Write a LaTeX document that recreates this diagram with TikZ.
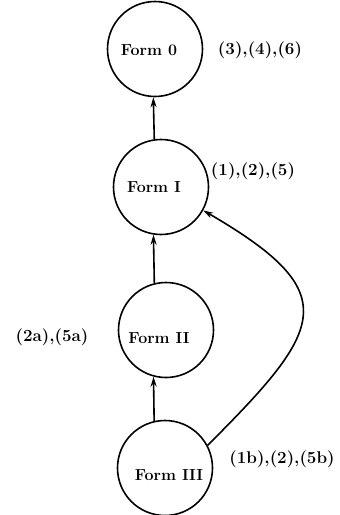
\documentclass[tikz,border=0pt]{standalone}
\usetikzlibrary{arrows.meta}
\begin{document}
\begin{tikzpicture}[x=1pt,y=-1pt,
  formcirc/.style={draw,circle,line width=1.6pt,minimum size=95pt,inner sep=0pt},
  formtext/.style={font=\fontsize{16}{19}\selectfont\bfseries,inner sep=0pt},
  reftext/.style={font=\fontsize{17}{20}\selectfont\bfseries,inner sep=0pt},
  conn/.style={line width=1.6pt,-{Stealth[length=10pt,width=6pt]}}]
\useasboundingbox (0,0) rectangle (340,515);
\node[formcirc] (f0) at (155,49) {};
\node[formcirc] (f1) at (161,187) {};
\node[formcirc] (f2) at (166,330) {};
\node[formcirc] (f3) at (165,468) {};
\node[formtext] (t0) at (149,50) {Form 0};
\node[formtext] (t1) at (154,187) {Form I};
\node[formtext] (t2) at (159,338) {Form II};
\node[formtext] (t3) at (169,475) {Form III};
\node[reftext] (r0) at (260,50) {(3),(4),(6)};
\node[reftext] (r1) at (253,171) {(1),(2),(5)};
\node[reftext] (r2) at (52,337) {(2a),(5a)};
\node[reftext] (r3) at (282,459) {(1b),(2),(5b)};
\draw[conn] (f1.98.5) -- (f0.268.8);
\draw[conn] (f2.104.6) -- (f1.261.5);
\draw[conn] (f3.103.4) -- (f2.255.4);
\draw[conn] (f3.28.6) .. controls (324.6,328.4) and (345.5,293) .. (f1.-29.7);
\end{tikzpicture}
\end{document}
